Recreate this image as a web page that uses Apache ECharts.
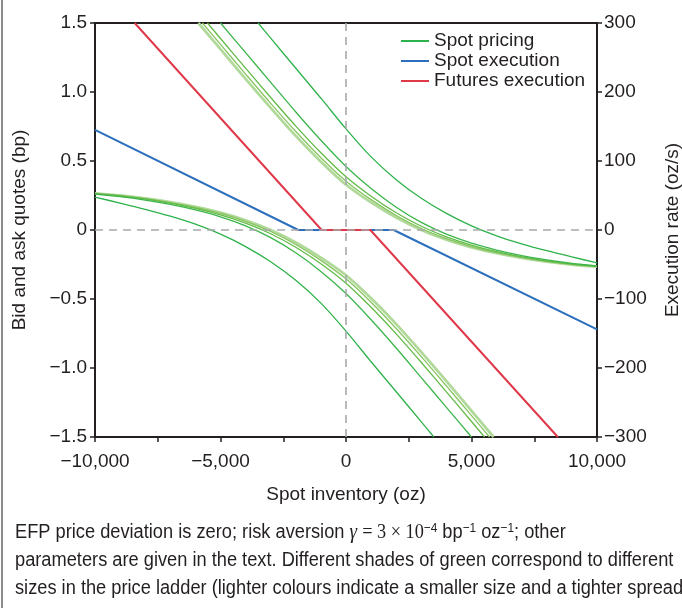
<!DOCTYPE html>
<html>
<head>
<meta charset="utf-8">
<script src="https://cdn.jsdelivr.net/npm/echarts@6/dist/echarts.min.js"></script>
<style>
html,body{margin:0;padding:0;background:#fff;}
#chart{width:682px;height:608px;}
</style>
</head>
<body>
<div id="chart"></div>
<script>
// ---- data ----
const xTicks = [-10000, -5000, 0, 5000, 10000];
const leftTicks = [-1.5, -1.0, -0.5, 0, 0.5, 1.0, 1.5];
const rightTicks = [-300, -200, -100, 0, 100, 200, 300];

// ask quotes (bp), darkest -> lightest green
const ask1 = [[-3500,1.5],[-3000,1.39],[-2000,1.172],[-1000,0.955],[0,0.733],[1000,0.53],[2000,0.365],[3000,0.23],[4000,0.12],[5000,0.03],[6000,-0.042],[7000,-0.10],[8000,-0.15],[9000,-0.195],[10000,-0.238]];
const ask2 = [[-5000,1.5],[-4000,1.285],[-3000,1.07],[-2000,0.855],[-1000,0.65],[0,0.46],[1000,0.30],[2000,0.165],[3000,0.055],[4000,-0.03],[5000,-0.095],[6000,-0.145],[7000,-0.185],[8000,-0.217],[9000,-0.242],[10000,-0.26]];
const ask3 = [[-5520,1.5],[-5000,1.388],[-4000,1.173],[-3000,0.96],[-2000,0.753],[-1000,0.56],[0,0.386],[1000,0.245],[2000,0.125],[3000,0.027],[4000,-0.05],[5000,-0.11],[6000,-0.157],[7000,-0.195],[8000,-0.225],[9000,-0.247],[10000,-0.263]];
const ask4 = [[-5720,1.5],[-5000,1.345],[-4000,1.13],[-3000,0.918],[-2000,0.714],[-1000,0.524],[0,0.354],[1000,0.22],[2000,0.105],[3000,0.011],[4000,-0.063],[5000,-0.12],[6000,-0.164],[7000,-0.199],[8000,-0.227],[9000,-0.249],[10000,-0.265]];
const ask5 = [[-5880,1.5],[-5000,1.31],[-4000,1.095],[-3000,0.885],[-2000,0.682],[-1000,0.495],[0,0.328],[1000,0.20],[2000,0.09],[3000,0.0],[4000,-0.071],[5000,-0.126],[6000,-0.168],[7000,-0.202],[8000,-0.229],[9000,-0.25],[10000,-0.266]];

// bid quotes (bp), darkest -> lightest green
const bid1 = [[-10000,0.238],[-9000,0.195],[-8000,0.15],[-7000,0.10],[-6000,0.042],[-5000,-0.03],[-4000,-0.12],[-3000,-0.23],[-2000,-0.365],[-1000,-0.53],[0,-0.733],[1000,-0.955],[2000,-1.172],[3000,-1.39],[3500,-1.5]];
const bid2 = [[-10000,0.26],[-9000,0.242],[-8000,0.217],[-7000,0.185],[-6000,0.145],[-5000,0.095],[-4000,0.03],[-3000,-0.055],[-2000,-0.165],[-1000,-0.30],[0,-0.46],[1000,-0.65],[2000,-0.855],[3000,-1.07],[4000,-1.285],[5000,-1.5]];
const bid3 = [[-10000,0.263],[-9000,0.247],[-8000,0.225],[-7000,0.195],[-6000,0.157],[-5000,0.11],[-4000,0.05],[-3000,-0.027],[-2000,-0.125],[-1000,-0.245],[0,-0.386],[1000,-0.56],[2000,-0.753],[3000,-0.96],[4000,-1.173],[5000,-1.388],[5520,-1.5]];
const bid4 = [[-10000,0.265],[-9000,0.249],[-8000,0.227],[-7000,0.199],[-6000,0.164],[-5000,0.12],[-4000,0.063],[-3000,-0.011],[-2000,-0.105],[-1000,-0.22],[0,-0.354],[1000,-0.524],[2000,-0.714],[3000,-0.918],[4000,-1.13],[5000,-1.345],[5720,-1.5]];
const bid5 = [[-10000,0.266],[-9000,0.25],[-8000,0.229],[-7000,0.202],[-6000,0.168],[-5000,0.126],[-4000,0.071],[-3000,0.0],[-2000,-0.09],[-1000,-0.20],[0,-0.328],[1000,-0.495],[2000,-0.682],[3000,-0.885],[4000,-1.095],[5000,-1.31],[5880,-1.5]];

// execution rates (oz/s, right axis)
const spotExec = [[-10000,145],[-1900,0],[1900,0],[10000,-144]];
const futExec = [[-8420,300],[-970,0],[970,0],[8440,-300]];

const caption = [
  'EFP price deviation is zero; risk aversion {g|\u03b3} {m|= 3 \u00d7 10}{s|\u22124} bp{s|\u22121} oz{s|\u22121}; other',
  'parameters are given in the text. Different shades of green correspond to different',
  'sizes in the price ladder (lighter colours indicate a smaller size and a tighter spread)'
];

// ---- styling ----
const greens = ['#2eb24b', '#3cb54a', '#62bb46', '#88c561', '#b0d99a'];
const greenWidths = [1.3, 1.3, 1.3, 1.3, 2.8];
const BLUE = '#2c6fbd', RED = '#e0394a', AX = '#231f20';
const FONT = 'Liberation Sans, Arial, sans-serif';

const fmtMinus = s => s.replace('-', '\u2212');
const asks = [ask1, ask2, ask3, ask4, ask5];
const bids = [bid1, bid2, bid3, bid4, bid5];

const series = [];
for (let i = 0; i < 5; i++) {
  [asks[i], bids[i]].forEach(d => {
    series.push({
      name: 'Spot pricing', type: 'line', data: d, xAxisIndex: 0, yAxisIndex: 0,
      smooth: 0.3, symbol: 'none', showSymbol: false, clip: true, z: 2 + (4 - i) * 0.01,
      lineStyle: { color: greens[i], width: greenWidths[i] },
      itemStyle: { color: greens[i] }
    });
  });
}
series.push({
  name: 'Spot execution', type: 'line', data: spotExec, yAxisIndex: 1,
  symbol: 'none', showSymbol: false, clip: true, z: 3,
  lineStyle: { color: BLUE, width: 2 }, itemStyle: { color: BLUE }
});
series.push({
  name: 'Futures execution', type: 'line', data: futExec, yAxisIndex: 1,
  symbol: 'none', showSymbol: false, clip: true, z: 4,
  lineStyle: { color: RED, width: 2 }, itemStyle: { color: RED }
});
series.push({
  name: 'zero', type: 'line', data: [], yAxisIndex: 0, z: 10,
  markLine: {
    silent: true, symbol: 'none', animation: false, label: { show: false },
    lineStyle: { color: '#a7a9ac', width: 1.6, type: [8, 6] },
    data: [{ yAxis: 0 }, { xAxis: 0 }]
  }
});

const chart = echarts.init(document.getElementById('chart'), null, { renderer: 'canvas' });
chart.setOption({
  animation: false,
  backgroundColor: '#fff',
  grid: { left: 95, right: 85, top: 23, bottom: 171, containLabel: false, outerBoundsMode: 'none',
          show: true, borderColor: AX, borderWidth: 2, backgroundColor: 'transparent' },
  legend: {
    data: ['Spot pricing', 'Spot execution', 'Futures execution'],
    orient: 'vertical', left: 401, top: 31, padding: 0, itemWidth: 28, itemHeight: 2, itemGap: 0, icon: 'rect',
    textStyle: { fontFamily: FONT, fontSize: 19, color: AX, lineHeight: 20 },
    selectedMode: false
  },
  xAxis: {
    type: 'value', min: -10000, max: 10000, interval: 2500,
    name: 'Spot inventory (oz)', nameLocation: 'middle', nameGap: 48,
    nameTextStyle: { fontFamily: FONT, fontSize: 19, color: AX },
    axisLine: { onZero: false, lineStyle: { color: AX, width: 2 } },
    axisTick: { lineStyle: { color: AX, width: 1.5 }, length: 5 },
    axisLabel: {
      fontFamily: FONT, fontSize: 19, color: AX, margin: 15,
      formatter: v => xTicks.indexOf(v) >= 0 ? fmtMinus(v.toLocaleString('en-US')) : ''
    },
    splitLine: { show: false }
  },
  yAxis: [{
    type: 'value', min: -1.5, max: 1.5, interval: 0.5, position: 'left',
    name: 'Bid and ask quotes (bp)', nameLocation: 'middle', nameGap: 66, nameRotate: 90,
    nameTextStyle: { fontFamily: FONT, fontSize: 19, color: AX },
    axisLine: { show: true, onZero: false, lineStyle: { color: AX, width: 2 } },
    axisTick: { show: true, lineStyle: { color: AX, width: 1.5 }, length: 5 },
    axisLabel: {
      fontFamily: FONT, fontSize: 19, color: AX, margin: 8,
      formatter: v => { const t = leftTicks.find(x => Math.abs(x - v) < 1e-9); return t === 0 ? '0' : fmtMinus(t.toFixed(1)); }
    },
    splitLine: { show: false }
  }, {
    type: 'value', min: -300, max: 300, interval: 100, position: 'right',
    name: 'Execution rate (oz/s)', nameLocation: 'middle', nameGap: 66, nameRotate: 90,
    nameTextStyle: { fontFamily: FONT, fontSize: 19, color: AX },
    axisLine: { show: true, onZero: false, lineStyle: { color: AX, width: 2 } },
    axisTick: { show: true, lineStyle: { color: AX, width: 1.5 }, length: 5 },
    axisLabel: {
      fontFamily: FONT, fontSize: 19, color: AX, margin: 7,
      formatter: v => rightTicks.indexOf(v) >= 0 ? fmtMinus(String(v)) : ''
    },
    splitLine: { show: false }
  }],
  graphic: [
    { type: 'rect', shape: { x: 1, y: 0, width: 2, height: 608 }, style: { fill: '#8a8a8a' }, silent: true },
  ].concat(caption.map((t, i) => ({
    type: 'text', x: 15, y: 522 + i * 28, scaleX: 0.912, silent: true,
    style: {
      text: t, font: '20px ' + FONT, fill: AX,
      rich: {
        g: { fontFamily: 'Liberation Serif, serif', fontStyle: 'italic', fontSize: 21, fill: AX },
        m: { fontFamily: 'Liberation Serif, serif', fontSize: 20, fill: AX },
        s: { fontFamily: FONT, fontSize: 13, fill: AX, verticalAlign: 'top', lineHeight: 12 }
      }
    }
  }))),
  series: series
});
</script>
</body>
</html>
